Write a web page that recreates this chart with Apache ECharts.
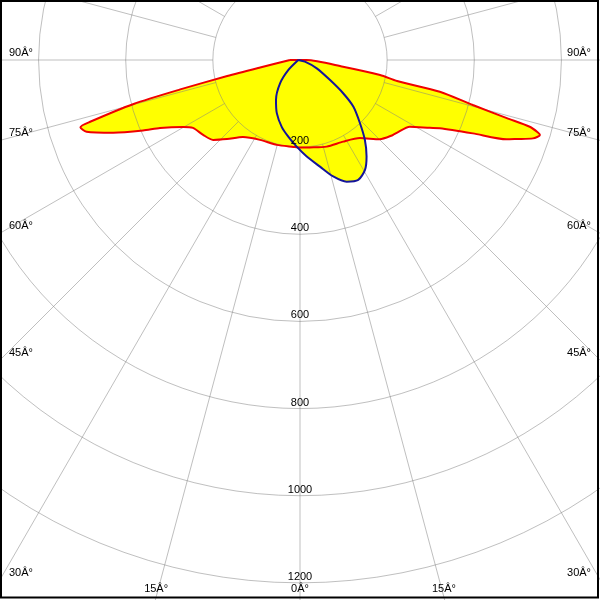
<!DOCTYPE html>
<html><head><meta charset="utf-8">
<script src="https://cdn.jsdelivr.net/npm/echarts@6/dist/echarts.min.js"></script>
<style>html,body{margin:0;padding:0;background:#fff}#c{width:600px;height:600px}</style>
</head><body><div id="c"></div>
<script>
// Signed angle from nadir: negative = left half-plane, positive = right half-plane
const redAngles = [-90,-79.4,-77.6,-76.2,-75.2,-73.6,-73.0,-71.4,-68.7,-65.8,-64.1,-60.2,-57.6,-52.3,-47.4,-42.7,-36.5,-26.6,-15.3,-4.4,0,6.5,17.1,27.9,37.5,45.2,51.1,53.0,58.7,62.4,64.0,67.0,69.0,70.0,71.4,72.65,73.1,73.8,74.3,75.4,77.2,77.8,79.4,81.2,90,-90];
const redValues = [23,93,171,283,395,502,527,517,460,395,357,309,291,281,271,247,220,205,202,200,201,202,208,212,226,258,274,278,295,336,357,431,508,530,564,577,570,549,493,410,329,228,187,100,15,23];
const blueAngles = [-90,-49.5,-40.6,-31.0,-23.6,-15.3,-8.7,-2.2,4.0,10.6,15.9,21.0,25.9,30.6,34.6,39.1,43.5,48.8,52.4,56.3,63.6,71.2,-90];
const blueValues = [4,35,70,107,133,159,178,199,222,249,278,299,306,293,269,236,200,163,125,83,43,12,4];
const ringValues = [200,400,600,800,1000,1200];
const radialLabels = ['200','400','600','800','1000','1200'];
const spokeAngles = [-165,-150,-135,-120,-105,-90,-75,-60,-45,-30,-15,0,15,30,45,60,75,90,105,120,135,150,165,180];
const angleLabelAngles = [-90,-75,-60,-45,-30,-15,0,15,30,45,60,75,90];
const angleLabelTexts = ['90\u00C2\u00B0','75\u00C2\u00B0','60\u00C2\u00B0','45\u00C2\u00B0','30\u00C2\u00B0','15\u00C2\u00B0','0\u00C2\u00B0','15\u00C2\u00B0','30\u00C2\u00B0','45\u00C2\u00B0','60\u00C2\u00B0','75\u00C2\u00B0','90\u00C2\u00B0'];

const GRID = 'rgba(128,128,128,0.5)';
const FONT = '11px "Liberation Sans", Arial, sans-serif';
const RMAX = 1400;
const SMOOTH = 0.25;
const pair = (vals, angs) => vals.map((v, i) => [v, angs[i]]);
const redData = pair(redValues, redAngles);
const blueData = pair(blueValues, blueAngles);

const chart = echarts.init(document.getElementById('c'), null, {renderer: 'canvas'});
const option = {
  animation: false,
  backgroundColor: '#fff',
  polar: {center: [300, 60], radius: 610},
  angleAxis: {type: 'value', min: -180, max: 180, startAngle: 90, clockwise: false, show: false},
  radiusAxis: {type: 'value', min: 0, max: RMAX, show: false},
  graphic: [{type: 'rect', z: 100, shape: {x: 1, y: 1, width: 597, height: 596.5}, style: {fill: null, stroke: '#000', lineWidth: 2}}],
  series: [
    {type: 'line', coordinateSystem: 'polar', data: redData, symbol: 'none', silent: true, z: 1, smooth: SMOOTH,
     lineStyle: {width: 0, opacity: 0}, areaStyle: {color: '#ffff00', opacity: 1}},
    {type: 'line', coordinateSystem: 'polar', data: blueData, symbol: 'none', silent: true, z: 1, smooth: SMOOTH,
     lineStyle: {width: 0, opacity: 0}, areaStyle: {color: '#ffff00', opacity: 1}},
    {type: 'custom', coordinateSystem: 'polar', silent: true, z: 2,
     data: ringValues.map(v => [v, 0]),
     renderItem: function (params, api) {
       const c = api.coord([0, 0]);
       const p = api.coord([api.value(0), 0]);
       const r = Math.hypot(p[0] - c[0], p[1] - c[1]);
       return {type: 'circle', shape: {cx: c[0], cy: c[1], r: r}, style: {fill: 'none', stroke: GRID, lineWidth: 1}};
     }},
    {type: 'custom', coordinateSystem: 'polar', silent: true, z: 2,
     data: spokeAngles.map(a => [RMAX, a]),
     renderItem: function (params, api) {
       const a = api.value(1);
       const p1 = api.coord([200, a]);
       const p2 = api.coord([RMAX, a]);
       return {type: 'line', shape: {x1: p1[0], y1: p1[1], x2: p2[0], y2: p2[1]}, style: {stroke: GRID, lineWidth: 1}};
     }},
    {type: 'line', coordinateSystem: 'polar', data: redData, symbol: 'none', silent: true, z: 3, smooth: SMOOTH,
     lineStyle: {color: '#f00000', width: 2}},
    {type: 'line', coordinateSystem: 'polar', data: blueData, symbol: 'none', silent: true, z: 3, smooth: SMOOTH,
     lineStyle: {color: '#14149a', width: 2}},
    {type: 'custom', coordinateSystem: 'polar', silent: true, z: 4,
     data: ringValues.map((v, i) => ({value: [v, 0], name: radialLabels[i]})),
     renderItem: function (params, api) {
       const p = api.coord([api.value(0), 0]);
       return {type: 'text', x: p[0], y: p[1] - 0.5,
         style: {text: radialLabels[params.dataIndex], font: FONT, fill: '#000', align: 'center', verticalAlign: 'bottom'}};
     }},
    {type: 'custom', coordinateSystem: 'polar', silent: true, z: 4,
     data: angleLabelAngles.map(a => [RMAX, a]),
     renderItem: function (params, api) {
       const a = api.value(1);
       const c = api.coord([0, a]);
       const p = api.coord([RMAX, a]);
       const L = Math.hypot(p[0] - c[0], p[1] - c[1]);
       const dx = (p[0] - c[0]) / L, dy = (p[1] - c[1]) / L;
       const tx = dx < -1e-6 ? (0 - c[0]) / dx : (dx > 1e-6 ? (600 - c[0]) / dx : Infinity);
       const ty = dy > 1e-6 ? (597 - c[1]) / dy : Infinity;
       const text = angleLabelTexts[params.dataIndex];
       if (ty < tx) {
         return {type: 'text', x: c[0] + dx * ty, y: 594,
           style: {text: text, font: FONT, fill: '#000', align: 'center', verticalAlign: 'bottom'}};
       }
       const y = c[1] + dy * tx - 1.5;
       return {type: 'text', x: dx < 0 ? 9 : 591, y: y,
         style: {text: text, font: FONT, fill: '#000', align: dx < 0 ? 'left' : 'right', verticalAlign: 'bottom'}};
     }}
  ]
};
chart.setOption(option);
</script>
</body></html>
